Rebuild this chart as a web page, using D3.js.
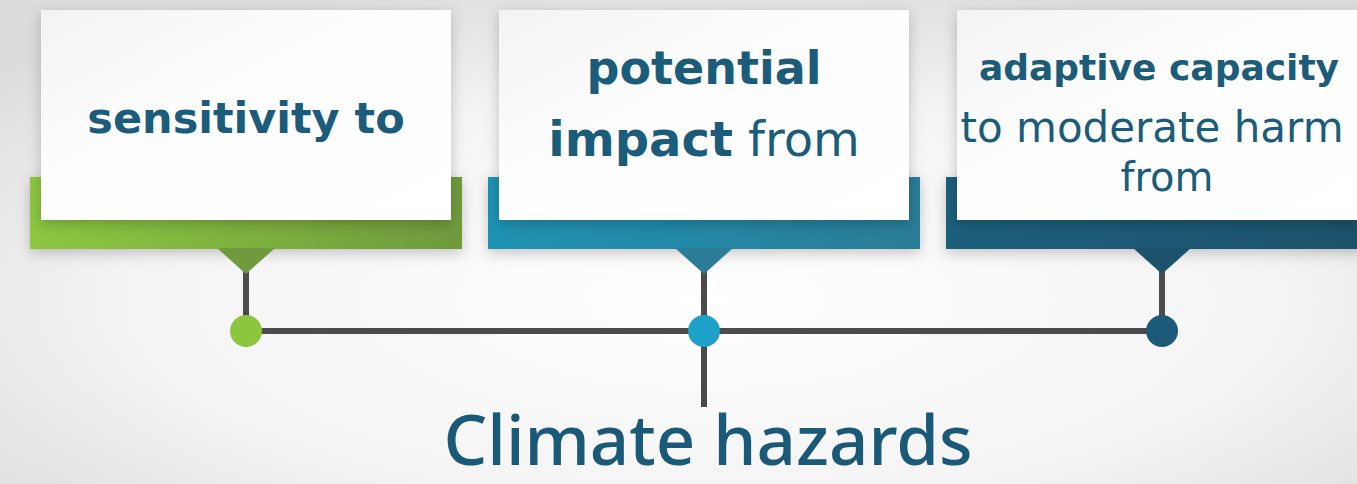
<!DOCTYPE html>
<html>
<head>
<meta charset="utf-8">
<script src="https://cdn.jsdelivr.net/npm/d3@7"></script>
<style>
  html, body { margin: 0; padding: 0; background: #f2f2f2; }
  svg { display: block; }
</style>
</head>
<body>
<div id="chart"></div>
<script>
// the three boxes, left to right
var categories = ["sensitivity", "impact", "adaptive"];
var boxLines = [
  [{ t: "sensitivity to", w: 700 }],
  [{ t: "potential", w: 700 }, { t: "impact from", w: 700, split: true }],
  [{ t: "adaptive capacity", w: 700 }, { t: "to moderate harm", w: 500 }, { t: "from", w: 500 }]
];
var barColors = [["#8dc73f", "#6f9a3e"], ["#1f93b4", "#2a7c97"], ["#1f5f7b", "#1c526b"]];
var dotColors = ["#8cc63f", "#1da1c9", "#1b5b79"];
var bottomLabel = "Climate hazards";

var width = 1357, height = 484;
var textColor = "#1c5c7b";
var fontFam = "'DejaVu Sans', sans-serif";

var svg = d3.select("#chart").append("svg")
  .attr("width", width).attr("height", height);

var defs = svg.append("defs");

// soft light background
var bg = defs.append("radialGradient").attr("id", "bg")
  .attr("cx", "52%").attr("cy", "62%").attr("r", "70%");
bg.append("stop").attr("offset", "0%").attr("stop-color", "#ffffff");
bg.append("stop").attr("offset", "60%").attr("stop-color", "#f4f4f4");
bg.append("stop").attr("offset", "100%").attr("stop-color", "#dcdcdc");
svg.append("rect").attr("width", width).attr("height", height).attr("fill", "url(#bg)");

var shadow = defs.append("filter").attr("id", "shadow")
  .attr("x", "-20%").attr("y", "-20%").attr("width", "140%").attr("height", "150%");
shadow.append("feDropShadow").attr("dx", 0).attr("dy", 4).attr("stdDeviation", 7)
  .attr("flood-color", "#000").attr("flood-opacity", 0.22);

var cardGrad = defs.append("linearGradient").attr("id", "card")
  .attr("x1", "0%").attr("x2", "100%").attr("y1", "0%").attr("y2", "100%");
cardGrad.append("stop").attr("offset", "0%").attr("stop-color", "#f3f3f3");
cardGrad.append("stop").attr("offset", "40%").attr("stop-color", "#fdfdfd");
cardGrad.append("stop").attr("offset", "100%").attr("stop-color", "#ffffff");

barColors.forEach(function (c, i) {
  var g = defs.append("linearGradient").attr("id", "bar" + i)
    .attr("x1", "0%").attr("x2", "100%");
  g.append("stop").attr("offset", "0%").attr("stop-color", c[0]);
  g.append("stop").attr("offset", "100%").attr("stop-color", c[1]);
});

// column centres
var x = d3.scalePoint().domain(categories).range([246, 1162]);

var barTop = 177, barBottom = 249, barHalf = 216;
var cardTop = 10, cardBottom = 220, cardHalf = 205;
var tipY = 274, dotY = 331, stemBottom = 407;
var lineColor = "#4b4b4b";

// horizontal connector
svg.append("line")
  .attr("x1", x(categories[0])).attr("x2", x(categories[2]))
  .attr("y1", dotY).attr("y2", dotY)
  .attr("stroke", lineColor).attr("stroke-width", 6);

// middle stem down to label
svg.append("line")
  .attr("x1", x(categories[1])).attr("x2", x(categories[1]))
  .attr("y1", dotY).attr("y2", stemBottom)
  .attr("stroke", lineColor).attr("stroke-width", 6);

var cols = svg.selectAll(".col").data(categories).enter()
  .append("g").attr("class", "col");

// stems from pointers
cols.append("line")
  .attr("x1", function (d) { return x(d); }).attr("x2", function (d) { return x(d); })
  .attr("y1", tipY - 4).attr("y2", dotY)
  .attr("stroke", lineColor).attr("stroke-width", 6);

// coloured bracket bar
cols.append("rect")
  .attr("x", function (d) { return x(d) - barHalf; })
  .attr("y", barTop)
  .attr("width", barHalf * 2)
  .attr("height", barBottom - barTop)
  .attr("fill", function (d, i) { return "url(#bar" + i + ")"; })
  .attr("filter", "url(#shadow)");

// pointer triangle
cols.append("path")
  .attr("d", function (d) {
    var cx = x(d);
    return "M" + (cx - 29) + "," + (barBottom - 1) + "L" + (cx + 29) + "," + (barBottom - 1) +
      "L" + cx + "," + tipY + "Z";
  })
  .attr("fill", function (d, i) { return barColors[i][1]; });

// white card
cols.append("rect")
  .attr("x", function (d) { return x(d) - cardHalf; })
  .attr("y", cardTop)
  .attr("width", cardHalf * 2)
  .attr("height", cardBottom - cardTop)
  .attr("fill", "url(#card)")
  .attr("filter", "url(#shadow)");

// dots
cols.append("circle")
  .attr("cx", function (d) { return x(d); })
  .attr("cy", dotY)
  .attr("r", 16)
  .attr("fill", function (d, i) { return dotColors[i]; });

// card text (size and baseline per line)
var layouts = [
  { size: [43], base: [133], dx: [0] },
  { size: [46, 48], base: [84, 156], dx: [0, 0] },
  { size: [36, 42, 40], base: [80, 142, 191], dx: [-3, -10, 5] }
];
cols.each(function (d, i) {
  var g = d3.select(this);
  var L = layouts[i];
  boxLines[i].forEach(function (line, j) {
    var t = g.append("text")
      .attr("x", x(d) + L.dx[j])
      .attr("y", L.base[j])
      .attr("text-anchor", "middle")
      .attr("fill", textColor)
      .style("font-family", fontFam)
      .style("font-size", L.size[j] + "px");
    if (line.split) {
      var parts = line.t.split(" ");
      t.append("tspan").style("font-weight", 700).text(parts[0]);
      t.append("tspan").style("font-weight", 500).text(" " + parts[1]);
    } else {
      t.style("font-weight", line.w).text(line.t);
    }
  });
});

// bottom label
svg.append("text")
  .attr("x", x(categories[1]) + 4)
  .attr("y", 465)
  .attr("text-anchor", "middle")
  .attr("fill", "#1a5a78")
  .style("font-family", "'Noto Sans', sans-serif")
  .style("font-weight", 500)
  .style("font-size", "69px")
  .text(bottomLabel);
</script>
</body>
</html>
